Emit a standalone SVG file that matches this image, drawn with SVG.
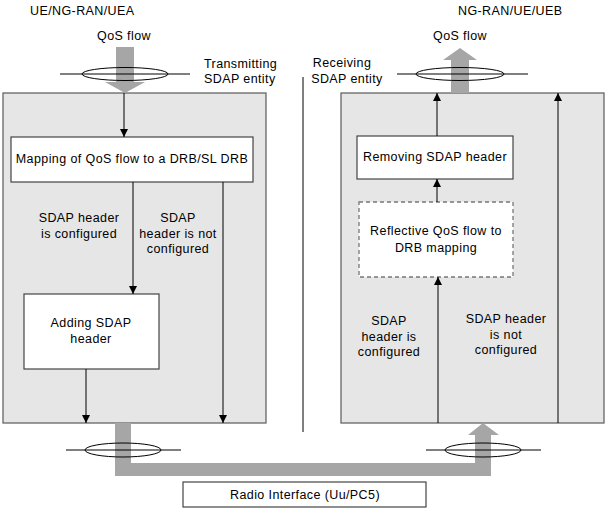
<svg xmlns="http://www.w3.org/2000/svg" width="610" height="511" viewBox="0 0 610 511">
<defs>
<marker id="ah" viewBox="0 0 10 10" refX="10" refY="5" markerWidth="8" markerHeight="10" markerUnits="userSpaceOnUse" orient="auto">
<path d="M0,0 L10,5 L0,10 Z" fill="#000"/>
</marker>
</defs>
<style>
text{font-family:"Liberation Sans",Arial,sans-serif;font-size:12.5px;letter-spacing:0.4px;fill:#000}
.c{text-anchor:middle}
.ent{fill:#e6e6e6;stroke:#666;stroke-width:1.3}
.box{fill:#fff;stroke:#444;stroke-width:1.2}
.dash{fill:#fff;stroke:#777;stroke-width:1.3;stroke-dasharray:4,3}
.ln{stroke:#000;stroke-width:1;fill:none}
.gray{fill:#a6a6a6;stroke:none}
.ell{fill:none;stroke:#000;stroke-width:1}
</style>
<rect width="610" height="511" fill="#fff"/>
<g id="labels">
<text x="30" y="15">UE/NG-RAN/UEA</text>
<text x="124" y="40" class="c">QoS flow</text>
<text x="204" y="68">Transmitting</text>
<text x="204" y="83">SDAP  entity</text>
<text x="458" y="15">NG-RAN/UE/UEB</text>
<text x="460" y="40" class="c">QoS flow</text>
<text x="342" y="67" class="c">Receiving</text>
<text x="347" y="83" class="c">SDAP  entity</text>
</g>
<line x1="303" y1="77" x2="303" y2="432" stroke="#000" stroke-width="1"/>
<g id="tx-entity">
<rect class="ent" x="3" y="93" width="263" height="330"/>
</g>
<g id="rx-entity">
<rect class="ent" x="341" y="93" width="263" height="330"/>
</g>
<g id="flows">
<path class="gray" d="M116,47 H134 V82 H145 L125,93 L105,82 H116 Z"/>
<path class="gray" d="M451,93 V60 H443 L460,48 L477,60 H469 V93 Z"/>
<path class="gray" d="M115,423 H131 V463 H475 V435 H468 L483,423 L499,435 H491 V476 H115 Z"/>
<line class="ln" x1="60" y1="74" x2="190" y2="74"/>
<ellipse class="ell" cx="125" cy="74" rx="43" ry="6.5"/>
<line class="ln" x1="397" y1="74" x2="528" y2="74"/>
<ellipse class="ell" cx="460" cy="74" rx="44" ry="6.5"/>
<line class="ln" x1="66" y1="450" x2="181" y2="450"/>
<ellipse class="ell" cx="123" cy="450" rx="38" ry="7"/>
<line class="ln" x1="426" y1="450" x2="541" y2="450"/>
<ellipse class="ell" cx="483" cy="450" rx="38" ry="7"/>
</g>
<g id="mapping">
<rect class="box" x="11" y="137" width="242" height="45"/>
<text x="132" y="163" class="c">Mapping of QoS flow to a DRB/SL DRB</text>
</g>
<g id="adding">
<rect class="box" x="24" y="294" width="135" height="75"/>
<text x="91" y="327" class="c">Adding SDAP</text>
<text x="91" y="343" class="c">header</text>
</g>
<g id="removing">
<rect class="box" x="357" y="136" width="156" height="43"/>
<text x="435" y="161" class="c">Removing SDAP header</text>
</g>
<g id="reflective">
<rect class="dash" x="359" y="202" width="154" height="75"/>
<text x="436" y="235" class="c">Reflective QoS flow to</text>
<text x="436" y="252" class="c">DRB mapping</text>
</g>
<g id="radio">
<rect class="box" x="183" y="482" width="243" height="25"/>
<text x="305" y="499" class="c">Radio Interface (Uu/PC5)</text>
</g>
<g id="connectors">
<line class="ln" x1="124" y1="93" x2="124" y2="137" marker-end="url(#ah)"/>
<line class="ln" x1="133" y1="182" x2="133" y2="294" marker-end="url(#ah)"/>
<line class="ln" x1="223" y1="182" x2="223" y2="423" marker-end="url(#ah)"/>
<line class="ln" x1="86" y1="369" x2="86" y2="423" marker-end="url(#ah)"/>
<line class="ln" x1="438" y1="423" x2="438" y2="277" marker-end="url(#ah)"/>
<line class="ln" x1="437" y1="202" x2="437" y2="179" marker-end="url(#ah)"/>
<line class="ln" x1="437" y1="136" x2="437" y2="93" marker-end="url(#ah)"/>
<line class="ln" x1="558" y1="423" x2="558" y2="93" marker-end="url(#ah)"/>
</g>
<g id="conn-labels">
<text x="79" y="222" class="c">SDAP header</text>
<text x="79" y="238" class="c">is configured</text>
<text x="178" y="222" class="c">SDAP</text>
<text x="178" y="238" class="c">header is not</text>
<text x="178" y="253" class="c">configured</text>
<text x="389" y="325" class="c">SDAP</text>
<text x="389" y="341" class="c">header is</text>
<text x="389" y="356" class="c">configured</text>
<text x="506" y="323" class="c">SDAP header</text>
<text x="506" y="339" class="c">is not</text>
<text x="506" y="354" class="c">configured</text>
</g>
</svg>
